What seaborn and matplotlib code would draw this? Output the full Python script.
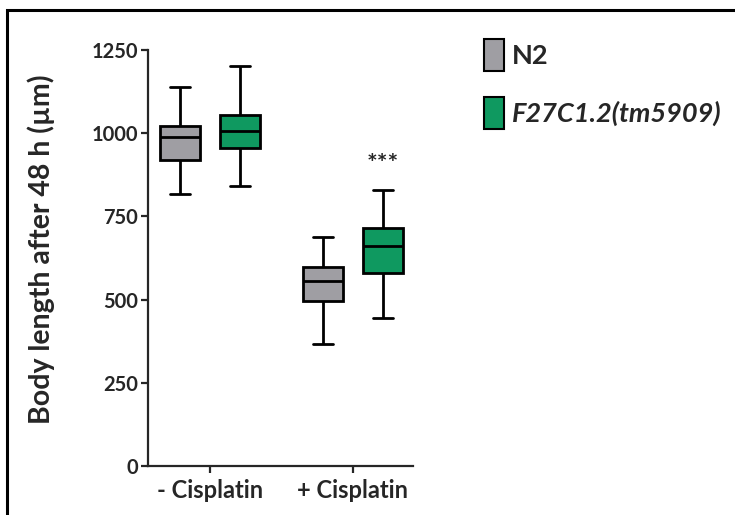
import matplotlib
matplotlib.use("Agg")
import matplotlib.pyplot as plt
from matplotlib.patches import Patch, Rectangle
import seaborn as sns
import pandas as pd

# Five-number summaries (min, Q1, median, Q3, max) of body length in µm
conditions = ["- Cisplatin", "+ Cisplatin"]
strains = ["N2", "F27C1.2(tm5909)"]
n2_minus = [817, 920, 990, 1023, 1140]
mut_minus = [841, 957, 1008, 1055, 1202]
n2_plus = [368, 497, 556, 597, 689]
mut_plus = [444, 581, 661, 716, 829]
yticks = [0, 250, 500, 750, 1000, 1250]
signif_label = "***"
signif_y = 905

colors = {"N2": "#9f9ea3", "F27C1.2(tm5909)": "#0f9960"}

rows = []
for cond, strain, vals in [
    (conditions[0], strains[0], n2_minus),
    (conditions[0], strains[1], mut_minus),
    (conditions[1], strains[0], n2_plus),
    (conditions[1], strains[1], mut_plus),
]:
    for v in vals:
        rows.append({"condition": cond, "strain": strain, "length": v})
df = pd.DataFrame(rows)

sns.set_style("ticks")
plt.rcParams["font.family"] = ["Lato", "DejaVu Sans"]
plt.rcParams["font.weight"] = "bold"

fig = plt.figure(figsize=(7.35, 5.15), dpi=100)
ax = fig.add_axes([148 / 735, 49 / 515, 265 / 735, 416 / 515])

lw = 2.0
sns.boxplot(
    data=df, x="condition", y="length", hue="strain",
    order=conditions, hue_order=strains, palette=colors,
    width=0.84, gap=0.333, whis=(0, 100), fliersize=0,
    linewidth=lw, linecolor="black", saturation=1, ax=ax,
    showcaps=True, legend=False,
)

ax.set_xlim(-0.434, 1.42)
ax.set_ylim(0, 1250)
ax.set_yticks(yticks)
ax.set_xlabel("")
ax.set_ylabel("Body length after 48 h (µm)", fontsize=20.5, fontweight="bold")
ax.yaxis.set_label_coords(-0.35, 0.52)
sns.despine(ax=ax)
for sp in ["left", "bottom"]:
    ax.spines[sp].set_linewidth(1.6)
ax.tick_params(axis="both", width=1.6, length=5, labelsize=14.5, pad=2)
ax.tick_params(axis="x", labelsize=17, pad=4)
for lbl in ax.get_xticklabels() + ax.get_yticklabels():
    lbl.set_fontweight("bold")

# significance marker above the mutant box under cisplatin
ax.text(1 + 0.21, signif_y, signif_label, ha="center", va="center",
        fontsize=18, fontweight="bold")

handles = [Patch(facecolor=colors[s], edgecolor="black", linewidth=1.5) for s in strains]
leg = fig.legend(
    handles, strains, loc="upper left", bbox_to_anchor=(484 / 735, 1 - 39 / 515),
    frameon=False, fontsize=19.5, handlelength=0.72, handleheight=1.45,
    handletextpad=0.3, labelspacing=0.95, borderaxespad=0, borderpad=0,
)
texts = leg.get_texts()
texts[0].set_fontweight("bold")
texts[1].set_fontweight("bold")
texts[1].set_fontstyle("italic")

# outer frame around the panel
fig.patches.append(Rectangle((7 / 735, -0.1), 1.2, 1.1 - 10 / 515,
                             transform=fig.transFigure, fill=False,
                             edgecolor="black", linewidth=2.2))

fig.savefig("out.png", dpi=100)
